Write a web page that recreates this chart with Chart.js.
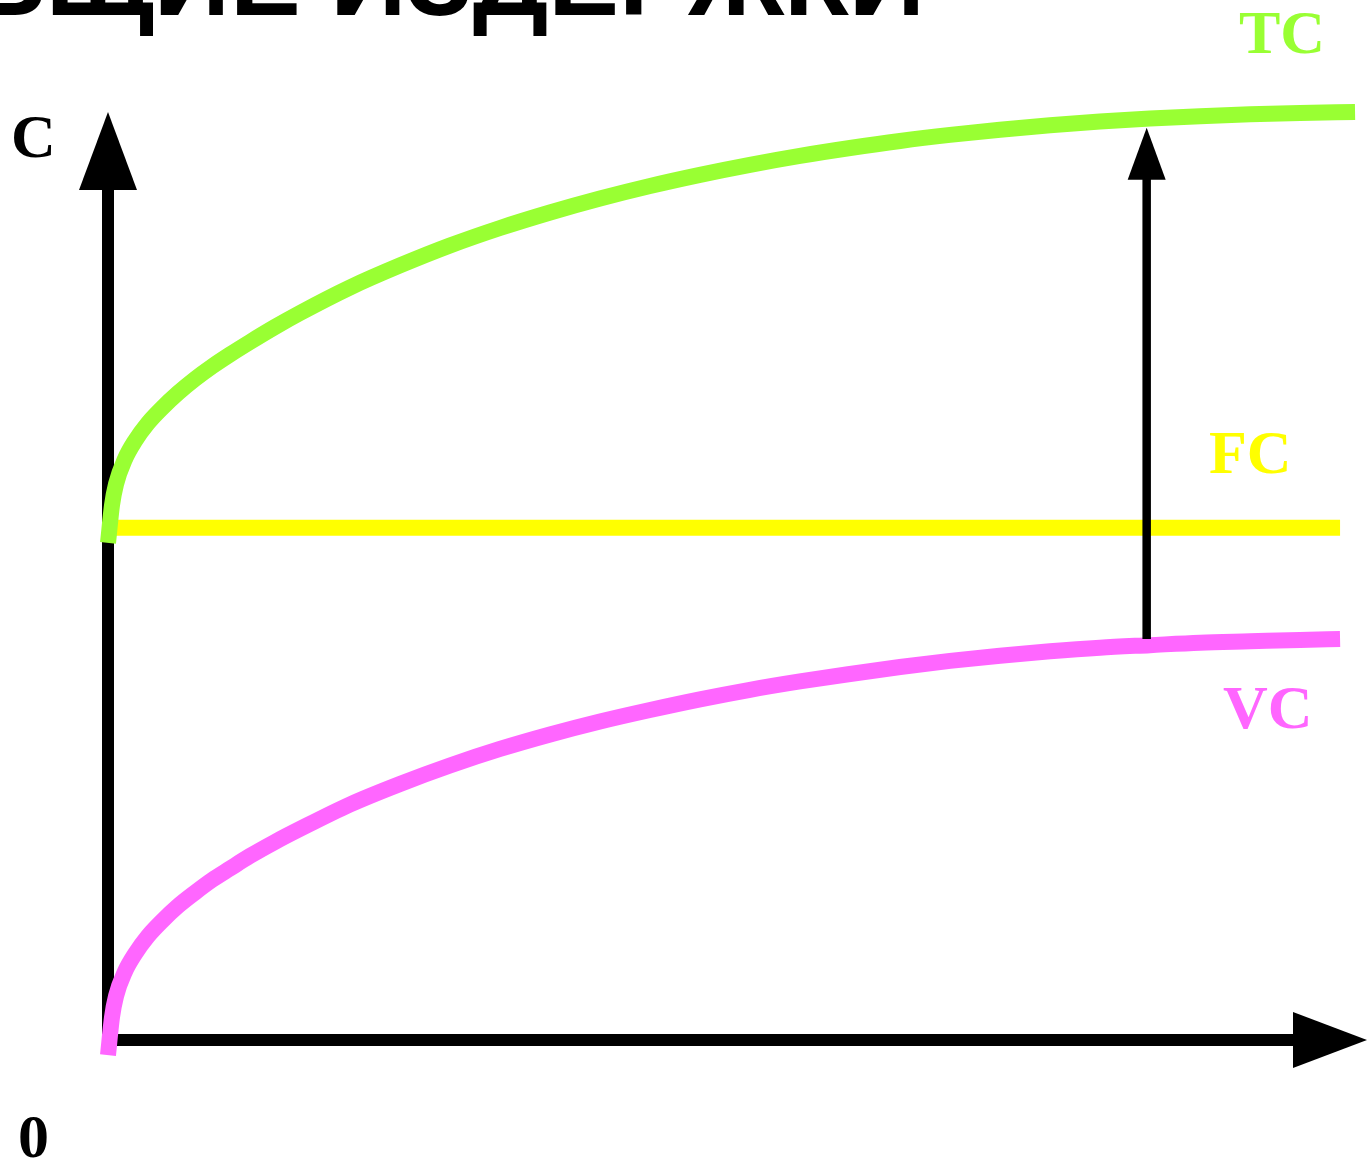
<!DOCTYPE html>
<html>
<head>
<meta charset="utf-8">
<script src="https://cdn.jsdelivr.net/npm/chart.js@4"></script>
<style>
  body { margin: 0; background: #fff; }
  #wrap { width: 1367px; height: 1169px; position: relative; overflow: hidden; }
</style>
</head>
<body>
<div id="wrap"><canvas id="my-chart"></canvas></div>
<script>
"use strict";

// Chart data (quantity on x, cost on y, both 0..100)

let chartTitle = "ОБЩИЕ ИЗДЕРЖКИ";

let qTC = [0, 0.32, 0.64, 1.35, 2.14, 3.18, 4.29, 5.56, 6.91, 8.26, 9.69, 11.28, 13.26, 15.25, 19.22, 23.19, 27.16, 31.14, 35.11, 39.08, 43.05, 47.02, 50.99, 54.96, 58.94, 62.91, 66.88, 70.85, 74.82, 78.79, 82.76, 86.74, 90.71, 94.68, 99.05];
let costTC = [53.56, 57.65, 59.91, 62.61, 64.55, 66.49, 68.1, 69.72, 71.23, 72.58, 73.87, 75.22, 76.83, 78.34, 81.09, 83.46, 85.61, 87.5, 89.17, 90.68, 92.03, 93.23, 94.31, 95.27, 96.12, 96.88, 97.53, 98.09, 98.57, 98.97, 99.29, 99.55, 99.75, 99.9, 100];

let qVC = [0, 0.32, 0.64, 1.35, 2.14, 3.18, 4.29, 5.56, 6.91, 8.26, 9.69, 11.28, 13.26, 15.25, 19.22, 23.19, 27.16, 31.14, 35.11, 39.08, 43.05, 47.02, 50.99, 54.96, 58.94, 62.91, 66.88, 70.85, 74.82, 78.79, 82.76, 86.74, 90.71, 94.68, 97.86];
let costVC = [-1.62, 2.48, 4.74, 7.38, 9.27, 11.21, 12.82, 14.44, 15.89, 17.24, 18.48, 19.83, 21.34, 22.74, 25.38, 27.59, 29.58, 31.36, 32.92, 34.32, 35.56, 36.71, 37.74, 38.64, 39.44, 40.19, 40.85, 41.41, 41.89, 42.28, 42.55, 42.81, 42.96, 43.11, 43.2];

let qFC = [0, 97.86];
let costFC = [55.2, 55.2];

// the arrow that shows TC = VC + FC
let arrowQ = 82.5;
let arrowFrom = 43.2;
let arrowTo = 98.3;

let seriesLabels = ["TC", "VC", "FC"];
let seriesColors = ["#99ff33", "#ff66ff", "#ffff00"];

function toPoints(xs, ys) {
  let points = [];
  for (let i = 0; i < xs.length; i++) {
    points.push({ x: xs[i], y: ys[i] });
  }
  return points;
}

// Arrow helper

function drawArrow(ctx, x1, y1, x2, y2, width, headLen, headHalf) {
  let ang = Math.atan2(y2 - y1, x2 - x1);
  let bx = x2 - Math.cos(ang) * headLen;
  let by = y2 - Math.sin(ang) * headLen;
  ctx.save();
  ctx.strokeStyle = "#000";
  ctx.fillStyle = "#000";
  ctx.lineWidth = width;
  ctx.lineCap = "butt";
  ctx.beginPath();
  ctx.moveTo(x1, y1);
  ctx.lineTo(bx + Math.cos(ang) * 2, by + Math.sin(ang) * 2);
  ctx.stroke();
  ctx.beginPath();
  ctx.moveTo(x2, y2);
  ctx.lineTo(bx - Math.sin(ang) * headHalf, by + Math.cos(ang) * headHalf);
  ctx.lineTo(bx + Math.sin(ang) * headHalf, by - Math.cos(ang) * headHalf);
  ctx.closePath();
  ctx.fill();
  ctx.restore();
}

// axes go under the curves, labels and the TC arrow on top
let axesPlugin = {
  id: "axesPlugin",
  beforeDatasetsDraw(chart) {
    let ctx = chart.ctx;
    let xs = chart.scales.x;
    let ys = chart.scales.y;
    let x0 = xs.getPixelForValue(0);
    let y0 = ys.getPixelForValue(0);
    drawArrow(ctx, x0, y0 + 6, x0, ys.getPixelForValue(100), 12, 78, 29);
    drawArrow(ctx, x0 - 6, y0, xs.getPixelForValue(100), y0, 12, 74, 28);
  },
  afterDatasetsDraw(chart) {
    let ctx = chart.ctx;
    let xs = chart.scales.x;
    let ys = chart.scales.y;
    let ax = xs.getPixelForValue(arrowQ);
    drawArrow(ctx, ax, ys.getPixelForValue(arrowFrom), ax, ys.getPixelForValue(arrowTo), 8.5, 52, 19);

    ctx.save();
    ctx.textAlign = "left";
    ctx.textBaseline = "alphabetic";
    ctx.font = "bold 62px 'Liberation Serif', 'Times New Roman', serif";
    ctx.fillStyle = "#000";
    ctx.fillText("C", 11, 157);
    ctx.fillText("0", 18, 1157);
    ctx.fillStyle = seriesColors[0];
    ctx.fillText(seriesLabels[0], 1239, 53);
    ctx.fillStyle = seriesColors[2];
    ctx.fillText(seriesLabels[2], 1209, 473);
    ctx.fillStyle = seriesColors[1];
    ctx.fillText(seriesLabels[1], 1223, 728);

    // title is cut off by the top edge
    ctx.fillStyle = "#000";
    ctx.textAlign = "right";
    ctx.font = "bold 106px 'Liberation Sans', Arial, sans-serif";
    ctx.fillText(chartTitle, 925, 15);
    ctx.restore();
  },
};

let datasets = [];
let xLists = [qTC, qVC, qFC];
let yLists = [costTC, costVC, costFC];
for (let i = 0; i < seriesLabels.length; i++) {
  datasets.push({
    label: seriesLabels[i],
    data: toPoints(xLists[i], yLists[i]),
    borderColor: seriesColors[i],
    backgroundColor: seriesColors[i],
    borderWidth: 16,
    borderCapStyle: "butt",
    borderJoinStyle: "round",
    pointRadius: 0,
    fill: false,
    cubicInterpolationMode: "monotone",
    clip: false,
  });
}

let ctx = document.getElementById("my-chart").getContext("2d");

let myChart = new Chart(ctx, {
  type: "line",
  data: { datasets: datasets },
  options: {
    responsive: true,
    maintainAspectRatio: false,
    animation: false,
    layout: { padding: { left: 108, right: 0, top: 112, bottom: 129 } },
    plugins: {
      legend: { display: false },
      tooltip: { enabled: false },
    },
    scales: {
      x: { type: "linear", min: 0, max: 100, display: false },
      y: { type: "linear", min: 0, max: 100, display: false },
    },
  },
  plugins: [axesPlugin],
});
</script>
</body>
</html>
